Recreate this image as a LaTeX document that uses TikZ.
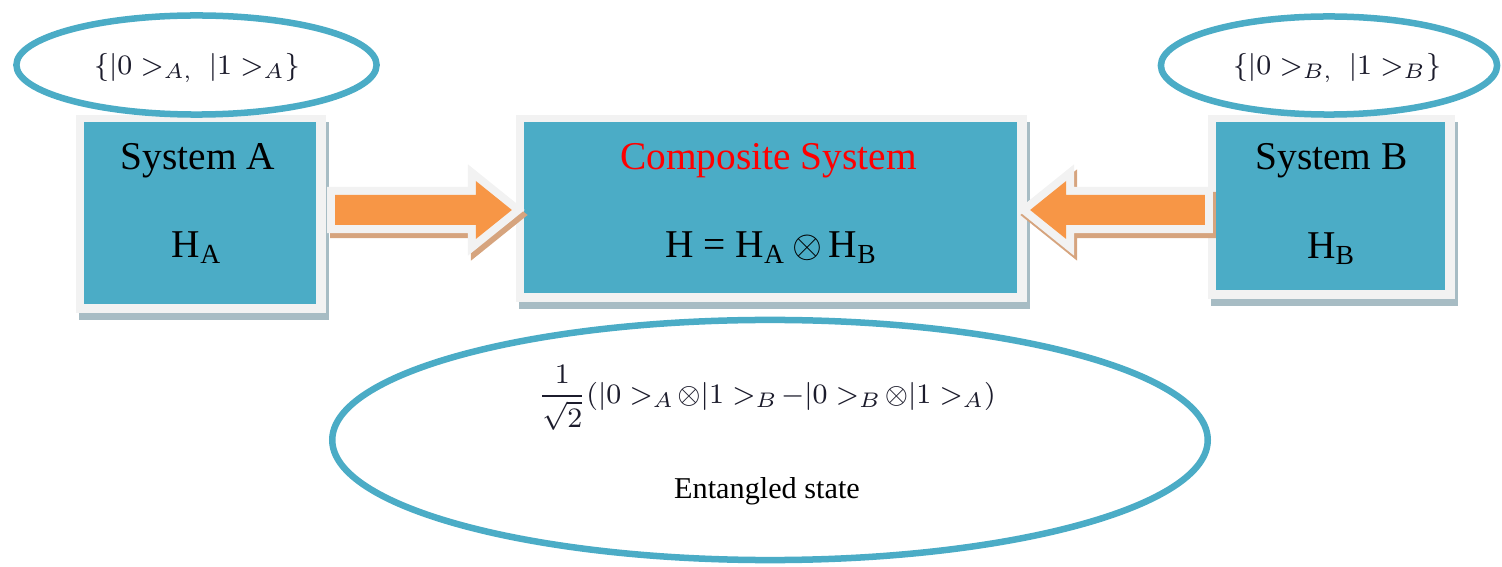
\documentclass[tikz,border=0pt]{standalone}
\usepackage{fontspec}
\setmainfont{Liberation Serif}
\usetikzlibrary{shapes.geometric,calc}
\pgfdeclarelayer{bg}
\pgfsetlayers{bg,main}
\definecolor{tealfill}{HTML}{4BACC6}
\definecolor{orangefill}{HTML}{F79646}
\definecolor{rimgray}{HTML}{F2F2F2}
\definecolor{boxshade}{HTML}{A7BCC4}
\definecolor{arrshade}{HTML}{D6A47E}
\definecolor{mathink}{HTML}{1C1C2C}
\newcommand\blockarrowpath[3]{($(#1)+(0,-15)$) -- ($(#2)+(#3,-15)$) -- ($(#2)+(#3,-29)$) -- (#2) -- ($(#2)+(#3,29)$) -- ($(#2)+(#3,15)$) -- ($(#1)+(0,15)$) -- cycle}
\begin{document}
\begin{tikzpicture}[x=0.01cm,y=-0.01cm,
  sysbox/.style={rectangle, fill=tealfill, draw=none, inner sep=0pt, outer sep=0pt},
  boxframe/.style={fill=rimgray},
  boxshadow/.style={fill=boxshade},
  ring/.style={ellipse, draw=tealfill, line width=0.065cm, fill=white, inner sep=0pt, outer sep=0pt},
  boxtext/.style={inner sep=0pt, font=\fontsize{11.2}{13}\selectfont, text=black},
  ringtext/.style={inner sep=0pt, font=\fontsize{8.5}{10}\selectfont, text=mathink},
  arrshadowstyle/.style={fill=arrshade, draw=arrshade, line width=0.16cm, line join=miter},
  arrrimstyle/.style={fill=rimgray, draw=rimgray, line width=0.16cm, line join=miter},
  arrbodystyle/.style={fill=orangefill, draw=none}
]
\useasboundingbox (0,0) rectangle (1502,567);

% boxes
\node[sysbox, minimum width=2.32cm, minimum height=1.82cm] (A) at (200,213) {};
\node[sysbox, minimum width=4.93cm, minimum height=1.71cm] (C) at (770.5,207.5) {};
\node[sysbox, minimum width=2.29cm, minimum height=1.68cm] (B) at (1330.5,206) {};

\begin{pgfonlayer}{bg}
\foreach \n in {A,C,B}{
  \fill[boxshadow] ($(\n.north west)+(-5,0)$) rectangle ($(\n.south east)+(13,16)$);
  \fill[boxframe] ($(\n.north west)+(-8,-7)$) rectangle ($(\n.south east)+(10,9)$);
}
\end{pgfonlayer}

% box texts
\node[boxtext] (Atitle) at ($(A.north)+(-2,39)$) {System A};
\node[boxtext] (Ahs) at ($(A.north)+(-3,126)$) {H\textsubscript{A}};
\node[boxtext, text=red] (Ctitle) at ($(C.north)+(-2,39)$) {Composite System};
\node[boxtext] (Chs) at ($(C.north)+(1,126)$) {H = H\textsubscript{A}\,$\otimes$\,H\textsubscript{B}};
\node[boxtext] (Btitle) at ($(B.north)+(1,39)$) {System B};
\node[boxtext] (Bhs) at ($(B.north)+(1,127)$) {H\textsubscript{B}};

% top ellipses
\node[ring, minimum width=3.60cm, minimum height=0.99cm] (EA) at (196.5,65) {};
\node[ringtext] (EAt) at (197,68) {$\{|0>_{A,}\ |1>_{A}\}$};
\node[ring, minimum width=3.36cm, minimum height=0.98cm] (EB) at (1329,65.5) {};
\node[ringtext] (EBt) at (1337,68) {$\{|0>_{B,}\ |1>_{B}\}$};

% bottom ellipse
\node[ring, minimum width=8.75cm, minimum height=2.40cm] (EC) at (770,440) {};
\node[ringtext, font=\fontsize{8.3}{10}\selectfont] (frac) at (767,398)
  {$\displaystyle\frac{1}{\sqrt{2}}(|0>_{A}\!\otimes|1>_{B}\!-|0>_{B}\!\otimes|1>_{A})$};
\node[ringtext, text=black, font=\fontsize{8.6}{10}\selectfont] (ent) at (767,491) {Entangled state};

% arrows
\coordinate (a1) at ($(A.east)+(19,-3)$);
\coordinate (a2) at ($(C.west)+(-12,2.5)$);
\coordinate (b1) at ($(B.west)+(-11,4)$);
\coordinate (b2) at ($(C.east)+(13,2.5)$);

\begin{scope}[transform canvas={xshift=0.03cm, yshift=-0.05cm}]
  \filldraw[arrshadowstyle] \blockarrowpath{a1}{a2}{-36};
  \filldraw[arrshadowstyle] \blockarrowpath{b1}{b2}{36};
\end{scope}
\filldraw[arrrimstyle] \blockarrowpath{a1}{a2}{-36};
\filldraw[arrrimstyle] \blockarrowpath{b1}{b2}{36};
\fill[arrbodystyle] \blockarrowpath{a1}{a2}{-36};
\fill[arrbodystyle] \blockarrowpath{b1}{b2}{36};
\end{tikzpicture}
\end{document}
